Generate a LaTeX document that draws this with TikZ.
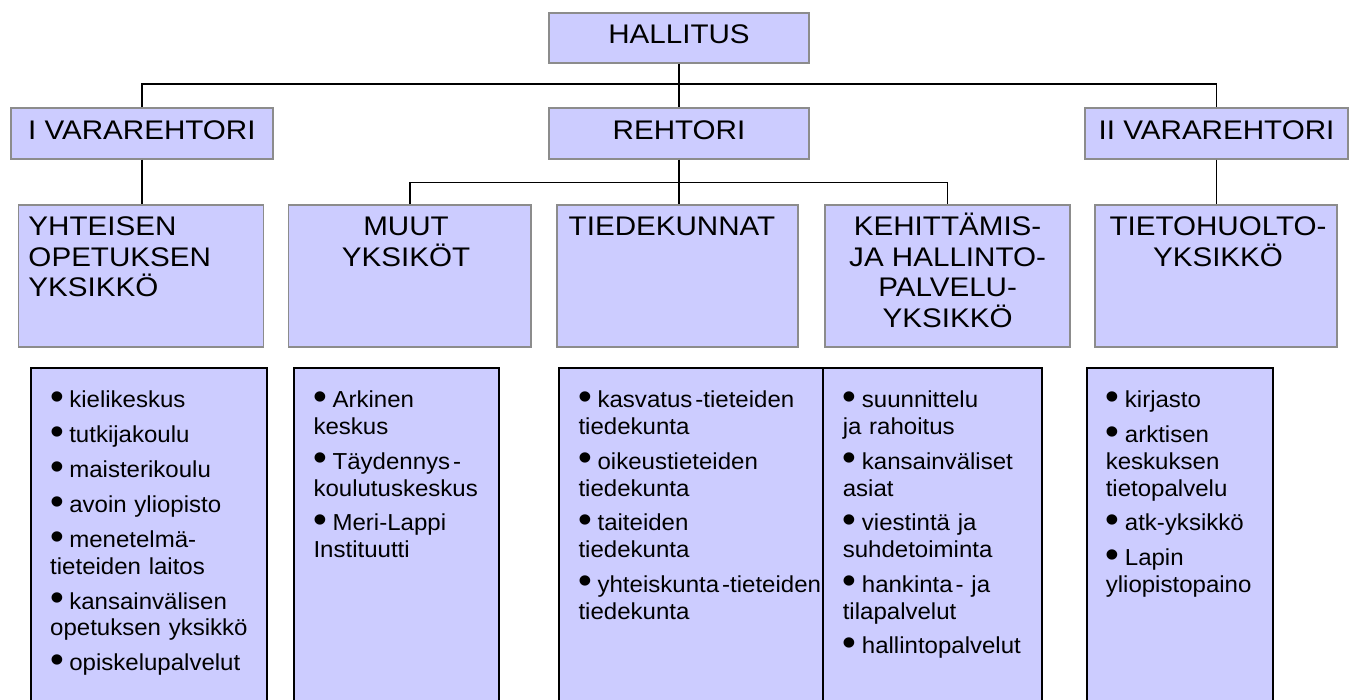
\documentclass[tikz,border=0pt]{standalone}
\usepackage{fontspec}
\setmainfont{Liberation Sans}[FakeStretch=1.04]
\newfontfamily\bigf{Liberation Sans}[FakeStretch=1.1]
\definecolor{lav}{HTML}{CCCCFF}
\definecolor{edgegray}{HTML}{8C8C8C}
\newcommand\bul{\raisebox{-1.5bp}{\fontsize{38}{26.7}\selectfont •}\kern5.3bp}
\newcommand\hyk{\kern3bp-}
\begin{document}
\begin{tikzpicture}[x=1bp,y=-1bp,
  conn/.style={draw=black, line width=1.6bp},
  topbox/.style={draw=edgegray, line width=1.8bp, fill=lav, minimum height=50bp, inner sep=0pt,
    font=\bigf\fontsize{27}{31}\selectfont, text height=19.5bp, text depth=8.3bp},
  unitbox/.style={draw=edgegray, line width=1.8bp, fill=lav, minimum height=142bp, inner sep=0pt},
  unittext/.style={inner sep=0pt, font=\bigf\fontsize{27}{31}\selectfont},
  listbox/.style={draw=black, line width=1.8bp, fill=lav, minimum height=360bp, inner sep=0pt},
  listtext/.style={inner sep=0pt, anchor=north west, text width=300bp, align=left,
    font=\fontsize{23.2}{26.7}\selectfont}
]
\useasboundingbox (0,0) rectangle (1353,699);
\clip (0,0) rectangle (1353,699);
\fill[white] (0,0) rectangle (1353,699);

% top rows
\node[topbox, minimum width=260bp] (hal) at (679,37.7) {HALLITUS};
\node[topbox, minimum width=262.3bp, minimum height=50.5bp] (v1) at (141.85,133.5) {I VARAREHTORI};
\node[topbox, minimum width=260bp, minimum height=50.5bp] (reh) at (679,133.5) {REHTORI};
\node[topbox, minimum width=263bp, minimum height=50.5bp] (v2) at (1216.5,133.5) {II VARAREHTORI};

% unit boxes
\node[unitbox, minimum width=245bp] (yht) at (141,276) {};
\node[unitbox, minimum width=242.5bp] (muut) at (409.75,276) {};
\node[unitbox, minimum width=240.7bp] (tied) at (677.6,276) {};
\node[unitbox, minimum width=245bp] (keh) at (947.5,276) {};
\node[unitbox, minimum width=242bp] (tieto) at (1216,276) {};

\node[unittext, anchor=north west, align=left] (yhtT) at (28.3,209) {\rule{0pt}{26bp}YHTEISEN\\OPETUKSEN\\YKSIKKÖ};
\node[unittext, anchor=north, align=center] (muutT) at (406,209) {\rule{0pt}{26bp}MUUT\\YKSIKÖT};
\node[unittext, anchor=north, align=center] (tiedT) at (672,209) {\rule{0pt}{26bp}TIEDEKUNNAT};
\node[unittext, anchor=north, align=center] (kehT) at (947.6,209) {\rule{0pt}{26bp}KEHITTÄMIS-\\JA HALLINTO-\\PALVELU-\\YKSIKKÖ};
\node[unittext, anchor=north, align=center] (tietoT) at (1218,209) {\rule{0pt}{26bp}TIETOHUOLTO-\\YKSIKKÖ};

% connectors
\coordinate (bus1) at (0,84.3);
\coordinate (bus2) at (0,182.3);
\draw[conn] (hal.south) -- (reh.north);
\draw[conn] (v1.north) -- (v1.north |- bus1) -- (v2.north |- bus1) -- (v2.north);
\draw[conn] (muut.north) -- (muut.north |- bus2) -- (keh.north |- bus2) -- (keh.north);
\draw[conn] (reh.south) -- (reh.south |- tied.north);
\draw[conn] (v1.south) -- (v1.south |- yht.north);
\draw[conn] (v2.south) -- (v2.south |- tieto.north);

% list boxes
\node[listbox, minimum width=236bp] (b1) at (148.7,548.3) {};
\node[listbox, minimum width=204.7bp] (b2) at (396.65,548.3) {};
\node[listbox, minimum width=264.3bp] (b3) at (691.15,548.3) {};
\node[listbox, minimum width=218.4bp] (b4) at (932.5,548.3) {};
\node[listbox, minimum width=186.6bp] (b5) at (1180,548.3) {};

\node[listtext] (l1) at (50,385.7) {\parindent=0pt\parskip=8.3bp
\rule{0pt}{22bp}\bul kielikeskus\par
\bul tutkijakoulu\par
\bul maisterikoulu\par
\bul avoin yliopisto\par
\bul menetelmä-\\tieteiden laitos\par
\bul kansainvälisen\\opetuksen yksikkö\par
\bul opiskelupalvelut};

\node[listtext] (l2) at (313.3,385.7) {\parindent=0pt\parskip=8.3bp
\rule{0pt}{22bp}\bul Arkinen\\keskus\par
\bul Täydennys\hyk\\koulutuskeskus\par
\bul Meri-Lappi\\Instituutti};

\node[listtext] (l3) at (578.3,385.7) {\parindent=0pt\parskip=8.3bp
\rule{0pt}{22bp}\bul kasvatus\hyk tieteiden\\tiedekunta\par
\bul oikeustieteiden\\tiedekunta\par
\bul taiteiden\\tiedekunta\par
\bul yhteiskunta\hyk tieteiden\\tiedekunta};

\node[listtext] (l4) at (842.6,385.7) {\parindent=0pt\parskip=8.3bp
\rule{0pt}{22bp}\bul suunnittelu\\ja rahoitus\par
\bul kansainväliset\\asiat\par
\bul viestintä ja\\suhdetoiminta\par
\bul hankinta\hyk\ ja\\tilapalvelut\par
\bul hallintopalvelut};

\node[listtext] (l5) at (1105.6,385.7) {\parindent=0pt\parskip=8.3bp
\rule{0pt}{22bp}\bul kirjasto\par
\bul arktisen\\keskuksen\\tietopalvelu\par
\bul atk-yksikkö\par
\bul Lapin\\yliopistopaino};
\end{tikzpicture}
\end{document}
